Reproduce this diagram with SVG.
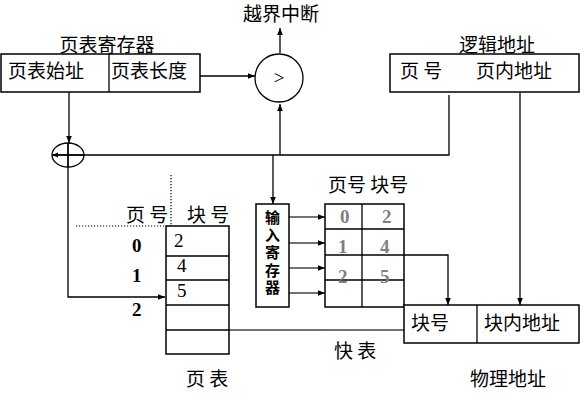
<svg xmlns="http://www.w3.org/2000/svg" width="586" height="400" viewBox="0 0 586 400">
<style>
.t{font-family:"Noto Sans CJK SC","Liberation Serif",serif;font-size:19px;fill:#000}
.v{font-family:"Noto Sans CJK SC",sans-serif;font-size:15px;font-weight:bold;fill:#000;writing-mode:vertical-rl;text-orientation:upright;letter-spacing:2.5px}
.n{font-family:"Liberation Serif",serif;font-size:19px;fill:#000}
.nb{font-family:"Liberation Serif",serif;font-size:19px;font-weight:bold;fill:#000}
.g{font-family:"Liberation Serif",serif;font-size:19px;font-weight:bold;fill:#808080}
.box{fill:#fff;stroke:#000;stroke-width:1.5}
.ln{fill:none;stroke:#000;stroke-width:1.3}
.lg{fill:none;stroke:#444;stroke-width:1.3}
.dot{fill:none;stroke:#000;stroke-width:1.2;stroke-dasharray:1.2 1.8}
</style>
<defs>
<marker id="a" viewBox="0 0 10 10" refX="10" refY="5" markerWidth="7" markerHeight="7" orient="auto" markerUnits="userSpaceOnUse"><path d="M0,1 L10,5 L0,9 z" fill="#000"/></marker>
</defs>
<rect width="586" height="400" fill="#fff"/>
<g id="connectors">
<line class="ln" x1="280" y1="53" x2="280" y2="28" marker-end="url(#a)"/>
<line class="ln" x1="195" y1="76" x2="255" y2="76" marker-end="url(#a)"/>
<line class="ln" x1="69" y1="92" x2="69" y2="143" marker-end="url(#a)"/>
<polyline class="ln" points="449,95 449,155 52,155"/>
<path d="M52,155 L58,152.5 L58,157.5 z" fill="#000"/>
<line class="ln" x1="280" y1="155" x2="280" y2="104" marker-end="url(#a)"/>
<line class="ln" x1="520" y1="93" x2="520" y2="305" marker-end="url(#a)"/>
<polyline class="ln" points="68,143 68,297 165,297" marker-end="url(#a)"/>
<line class="ln" x1="273" y1="155" x2="273" y2="204" marker-end="url(#a)"/>
<line class="dot" x1="171" y1="175" x2="171" y2="226"/>
<line class="dot" x1="76" y1="226" x2="171" y2="226"/>
<line class="lg" x1="289" y1="217" x2="325" y2="217" marker-end="url(#a)"/>
<line class="lg" x1="289" y1="243" x2="325" y2="243" marker-end="url(#a)"/>
<line class="lg" x1="289" y1="268" x2="325" y2="268" marker-end="url(#a)"/>
<line class="lg" x1="289" y1="293" x2="325" y2="293" marker-end="url(#a)"/>
<polyline class="ln" points="404,255 448,255 448,305" marker-end="url(#a)"/>
<line class="lg" x1="213" y1="330" x2="418" y2="330"/>
</g>
<g id="overflow-label"><text class="t" x="281" y="21" text-anchor="middle">越界中断</text></g>
<g id="comparator">
<circle cx="279" cy="78" r="24" fill="#fff" stroke="#000" stroke-width="1.3"/>
<text class="n" x="279" y="84" text-anchor="middle">&gt;</text>
</g>
<g id="page-table-register">
<text class="t" x="107" y="52" text-anchor="middle">页表寄存器</text>
<rect class="box" x="1" y="54" width="199" height="38"/>
<line class="ln" x1="109" y1="54" x2="109" y2="92"/>
<text class="t" x="8" y="78">页表始址</text>
<text class="t" x="111" y="78">页表长度</text>
</g>
<g id="logical-address">
<text class="t" x="497" y="52" text-anchor="middle">逻辑地址</text>
<rect class="box" x="390" y="54" width="189" height="38"/>
<text class="t" x="400" y="78">页 号</text>
<text class="t" x="476" y="78">页内地址</text>
</g>
<g id="adder">
<ellipse cx="68" cy="155" rx="16" ry="12" fill="none" stroke="#000" stroke-width="1.3"/>
<line class="ln" x1="52" y1="155" x2="84" y2="155"/>
<line class="ln" x1="68" y1="143" x2="68" y2="167"/>
</g>
<g id="page-table">
<text class="t" x="126" y="222" font-size="18">页 号</text>
<text class="t" x="187" y="222" font-size="18">块 号</text>
<rect class="box" x="166" y="226" width="63" height="128"/>
<line class="ln" x1="166" y1="256" x2="229" y2="256"/>
<line class="ln" x1="166" y1="280" x2="229" y2="280"/>
<line class="ln" x1="166" y1="305" x2="229" y2="305"/>
<line class="ln" x1="166" y1="330" x2="229" y2="330"/>
<text class="n" x="174" y="247">2</text>
<text class="n" x="177" y="272">4</text>
<text class="n" x="177" y="297">5</text>
<text class="nb" x="132" y="252">0</text>
<text class="nb" x="132" y="282">1</text>
<text class="nb" x="132" y="316">2</text>
<text class="t" x="186" y="386" font-size="18">页 表</text>
</g>
<g id="input-register">
<rect class="box" x="256" y="204" width="33" height="103"/>
<text class="v" x="272.5" y="210">输入寄存器</text>
</g>
<g id="fast-table">
<text class="t" x="328" y="192" font-size="18">页号 块号</text>
<rect class="box" x="325" y="204" width="79" height="103"/>
<line class="ln" x1="362" y1="204" x2="362" y2="307"/>
<line class="ln" x1="325" y1="229" x2="404" y2="229"/>
<line class="ln" x1="325" y1="255" x2="404" y2="255"/>
<line class="ln" x1="325" y1="280" x2="404" y2="280"/>
<text class="g" x="340" y="223">0</text>
<text class="g" x="382" y="223">2</text>
<text class="g" x="338" y="253">1</text>
<text class="g" x="380" y="253">4</text>
<text class="g" x="338" y="283">2</text>
<text class="g" x="380" y="283">5</text>
<text class="t" x="334" y="358" font-size="18">快 表</text>
</g>
<g id="physical-address">
<rect class="box" x="404" y="305" width="175" height="38"/>
<line class="ln" x1="477" y1="305" x2="477" y2="343"/>
<text class="t" x="411" y="330">块号</text>
<text class="t" x="484" y="330">块内地址</text>
<text class="t" x="470" y="386">物理地址</text>
</g>
</svg>
